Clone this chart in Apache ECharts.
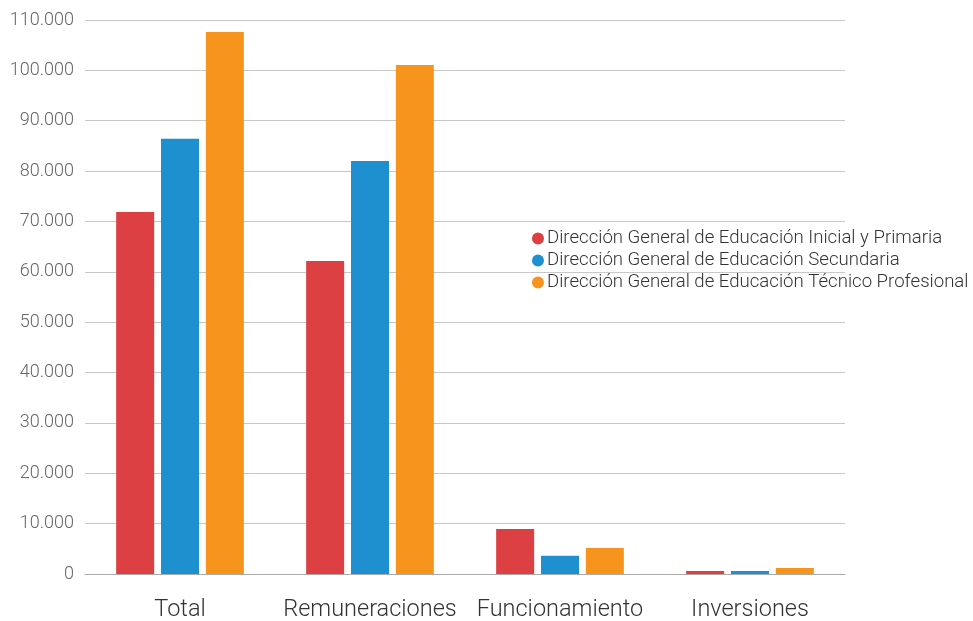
<!DOCTYPE html>
<html>
<head>
<meta charset="utf-8">
<script src="https://cdn.jsdelivr.net/npm/echarts@6/dist/echarts.min.js"></script>
<style>
html,body{margin:0;padding:0;background:#fff;}
#chart{width:973px;height:621px;}
</style>
</head>
<body>
<div id="chart"></div>
<script>
// Gasto por dirección general y objeto de gasto
const categories = ['Total', 'Remuneraciones', 'Funcionamiento', 'Inversiones'];
const seriesNames = [
  'Dirección General de Educación Inicial y Primaria',
  'Dirección General de Educación Secundaria',
  'Dirección General de Educación Técnico Profesional'
];
const inicialPrimaria = [71900, 62150, 8950, 600];
const secundaria = [86400, 82000, 3600, 600];
const tecnicoProfesional = [107600, 101050, 5150, 1200];
const yTicks = [0, 10000, 20000, 30000, 40000, 50000, 60000, 70000, 80000, 90000, 100000, 110000];

const colors = ['#DC4042', '#1E90D0', '#F7941D'];
const values = [inicialPrimaria, secundaria, tecnicoProfesional];

const fmt = v => v === 0 ? '0' : String(v).replace(/\B(?=(\d{3})+(?!\d))/g, '.');

const chart = echarts.init(document.getElementById('chart'));
chart.setOption({
  animation: false,
  color: colors,
  textStyle: { fontFamily: 'Roboto', fontWeight: 300 },
  grid: { left: 85, right: 128, top: 20, bottom: 47, containLabel: false, outerBoundsMode: 'none' },
  legend: {
    orient: 'vertical',
    left: 527,
    top: 224,
    itemWidth: 12,
    itemHeight: 12,
    itemGap: 3,
    icon: 'circle',
    textStyle: { fontSize: 18.6, color: '#333', fontFamily: 'Roboto', fontWeight: 300, padding: [0, 0, 0, -2] },
    data: seriesNames
  },
  xAxis: {
    type: 'category',
    data: categories,
    axisLine: { lineStyle: { color: '#aaaaaa', width: 1 } },
    axisTick: { show: false },
    axisLabel: { interval: 0, fontSize: 23.5, color: '#333', fontWeight: 300, margin: 24 }
  },
  yAxis: {
    type: 'value',
    min: yTicks[0],
    max: yTicks[yTicks.length - 1],
    interval: 10000,
    axisLine: { show: false },
    axisTick: { show: false },
    splitLine: { lineStyle: { color: '#c8c8c8', width: 1 } },
    axisLabel: { fontSize: 18, color: '#666', fontWeight: 300, margin: 11, formatter: fmt }
  },
  series: seriesNames.map((name, i) => ({
    name,
    type: 'bar',
    data: values[i],
    barWidth: 38,
    barGap: '18%',
    itemStyle: { color: colors[i] }
  }))
});
</script>
</body>
</html>
